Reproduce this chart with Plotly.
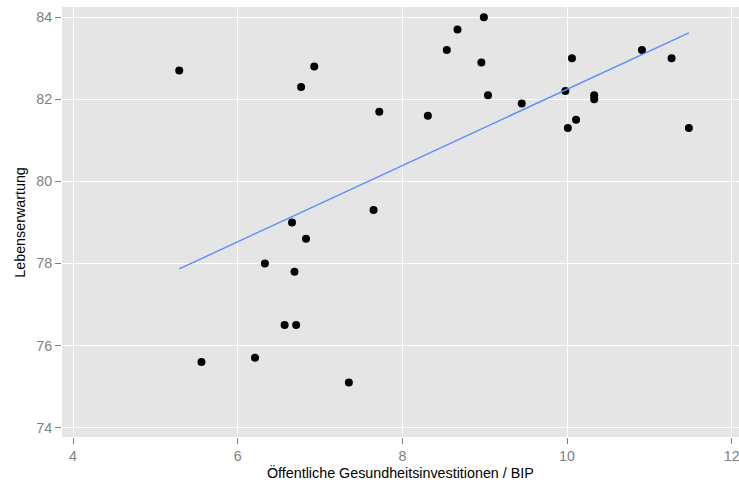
import numpy as np
import plotly.graph_objects as go

# Öffentliche Gesundheitsinvestitionen / BIP  vs. Lebenserwartung
health_spend = [5.29, 5.56, 6.93, 6.77, 7.72, 8.31, 8.54, 8.67, 8.99, 8.96, 9.04,
                7.65, 6.66, 6.83, 9.45, 9.98, 10.06, 10.01, 10.11, 10.33, 10.33,
                10.91, 11.27, 11.48, 6.33, 6.69, 6.57, 6.71, 6.21, 7.35]
life_exp = [82.7, 75.6, 82.8, 82.3, 81.7, 81.6, 83.2, 83.7, 84.0, 82.9, 82.1,
            79.3, 79.0, 78.6, 81.9, 82.2, 83.0, 81.3, 81.5, 82.1, 82.0,
            83.2, 83.0, 81.3, 78.0, 77.8, 76.5, 76.5, 75.7, 75.1]

x_ticks = [4, 6, 8, 10, 12]
y_ticks = [74, 76, 78, 80, 82, 84]

x_title = "Öffentliche Gesundheitsinvestitionen / BIP"
y_title = "Lebenserwartung"

xa = np.array(health_spend)
ya = np.array(life_exp)
slope, intercept = np.polyfit(xa, ya, 1)
fit_x = [xa.min(), xa.max()]
fit_y = [slope * v + intercept for v in fit_x]

FONT = "Liberation Sans, Arial, sans-serif"

fig = go.Figure()
fig.add_trace(go.Scatter(x=health_spend, y=life_exp, mode="markers",
                         marker=dict(color="black", size=8), showlegend=False,
                         hoverinfo="x+y"))
fig.add_trace(go.Scatter(x=fit_x, y=fit_y, mode="lines",
                         line=dict(color="#5C8DFF", width=1.4), showlegend=False))

axis_common = dict(
    showgrid=True, gridcolor="white", gridwidth=1.2,
    zeroline=False, showline=False,
    ticks="outside", ticklen=6, tickcolor="#7F7F7F", tickwidth=1,
    ticklabeloverflow="allow",
    tickfont=dict(family=FONT, size=14.3, color="#7F7F7F"),
)

fig.update_layout(
    width=739, height=482,
    margin=dict(l=62.3, r=0, t=7, b=45.3),
    paper_bgcolor="white", plot_bgcolor="#E5E5E5",
    xaxis=dict(range=[3.866, 12.089], tickvals=x_ticks, ticktext=[str(t) for t in x_ticks],
               **axis_common),
    yaxis=dict(range=[73.77, 84.25], tickvals=y_ticks, ticktext=[str(t) for t in y_ticks],
               **axis_common),
    annotations=[
        dict(text=x_title, xref="paper", yref="paper", x=0.5, y=0,
             xanchor="center", yanchor="middle", yshift=-35.3, showarrow=False,
             font=dict(family=FONT, size=14.3, color="black")),
        dict(text=y_title, xref="paper", yref="paper", x=0, y=0.5,
             xanchor="center", yanchor="middle", xshift=-42.3, textangle=-90,
             showarrow=False, font=dict(family=FONT, size=14.3, color="black")),
    ],
)

fig.write_html(
    "out.html",
    config={"displayModeBar": False},
    post_script=("document.body.style.margin='0';"
                 "document.body.style.overflow='hidden';"
                 "document.documentElement.style.overflow='hidden';"),
)
